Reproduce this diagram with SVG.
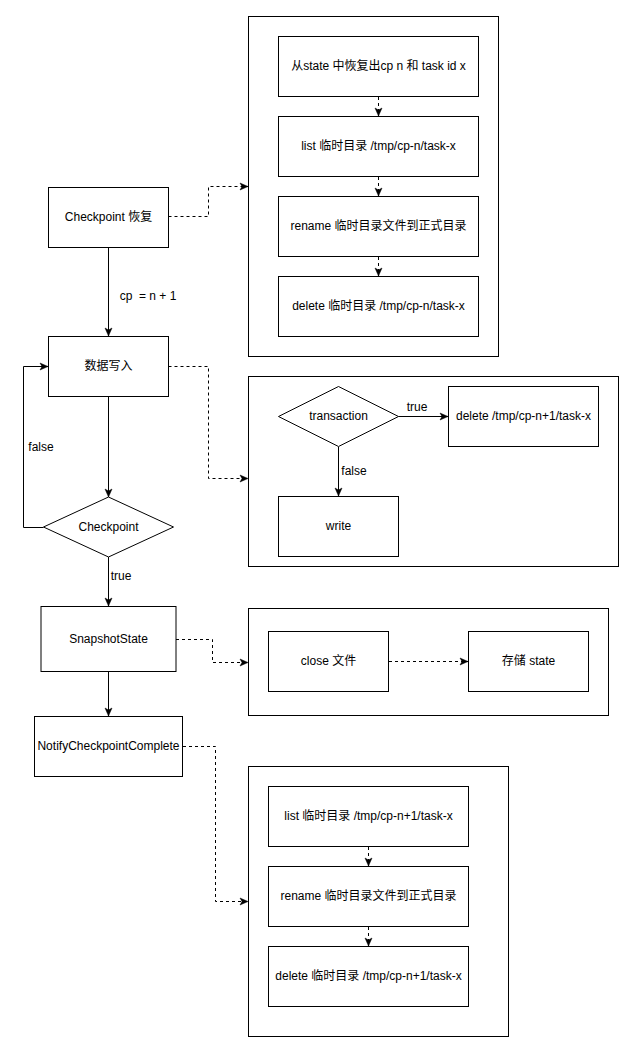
<svg xmlns="http://www.w3.org/2000/svg" width="635" height="1053" viewBox="0 0 635 1053">
<style>
  .box{fill:#fff;stroke:#000;stroke-width:1}
  .t{font-family:"Liberation Sans","Noto Sans CJK SC",sans-serif;font-size:12px;fill:#000;text-anchor:middle;dominant-baseline:central;white-space:pre}
  .e{fill:none;stroke:#000;stroke-width:1}
  .d{stroke-dasharray:3 3}
</style>
<defs>
  <marker id="arr" markerUnits="userSpaceOnUse" markerWidth="10" markerHeight="10" viewBox="0 0 10 10" refX="9" refY="5" orient="auto">
    <path d="M1,1.5 L9,5 L1,8.5 L3,5 Z" fill="#000" stroke="#000" stroke-width="0.5"/>
  </marker>
</defs>
<rect width="635" height="1053" fill="#fff"/>

<g id="outer1"><rect class="box" x="248.5" y="16.5" width="250" height="340"/></g>
<g id="outer2"><rect class="box" x="248.5" y="376.5" width="370" height="190"/></g>
<g id="outer3"><rect class="box" x="248.5" y="608.5" width="360" height="107"/></g>
<g id="outer4"><rect class="box" x="248.5" y="766.5" width="260" height="270"/></g>

<g id="n-restore"><rect class="box" x="48.5" y="187.5" width="120" height="60"/><text class="t" x="108.5" y="217">Checkpoint 恢复</text></g>
<g id="n-write-data"><rect class="box" x="48.5" y="336.5" width="120" height="60"/><text class="t" x="108.5" y="366">数据写入</text></g>
<g id="n-checkpoint"><path class="box" d="M108.5,497 L173.5,527 L108.5,557 L43.5,527 Z"/><text class="t" x="108.5" y="527">Checkpoint</text></g>
<g id="n-snapshot"><rect class="box" x="41" y="606.5" width="135" height="65"/><text class="t" x="108.5" y="639">SnapshotState</text></g>
<g id="n-notify"><rect class="box" x="34.5" y="716.5" width="148" height="60"/><text class="t" x="108.5" y="746">NotifyCheckpointComplete</text></g>

<g id="n-b1-1"><rect class="box" x="278.5" y="36.5" width="200" height="60"/><text class="t" x="378.5" y="66">从state 中恢复出cp n 和 task id x</text></g>
<g id="n-b1-2"><rect class="box" x="278.5" y="116.5" width="200" height="60"/><text class="t" x="378.5" y="146">list 临时目录 /tmp/cp-n/task-x</text></g>
<g id="n-b1-3"><rect class="box" x="278.5" y="196.5" width="200" height="60"/><text class="t" x="378.5" y="226">rename 临时目录文件到正式目录</text></g>
<g id="n-b1-4"><rect class="box" x="278.5" y="276.5" width="200" height="60"/><text class="t" x="378.5" y="306">delete 临时目录 /tmp/cp-n/task-x</text></g>

<g id="n-transaction"><path class="box" d="M338.5,386.5 L398.5,416.5 L338.5,446.5 L278.5,416.5 Z"/><text class="t" x="338.5" y="416">transaction</text></g>
<g id="n-delete-tmp"><rect class="box" x="448.5" y="386.5" width="150" height="60"/><text class="t" x="523.5" y="416">delete /tmp/cp-n+1/task-x</text></g>
<g id="n-write"><rect class="box" x="278.5" y="496.5" width="120" height="60"/><text class="t" x="338.5" y="526">write</text></g>

<g id="n-close"><rect class="box" x="268.5" y="631.5" width="120" height="60"/><text class="t" x="328.5" y="661">close 文件</text></g>
<g id="n-store"><rect class="box" x="468.5" y="631.5" width="120" height="60"/><text class="t" x="528.5" y="661">存储 state</text></g>

<g id="n-b4-1"><rect class="box" x="268.5" y="786.5" width="200" height="60"/><text class="t" x="368.5" y="816">list 临时目录 /tmp/cp-n+1/task-x</text></g>
<g id="n-b4-2"><rect class="box" x="268.5" y="866.5" width="200" height="60"/><text class="t" x="368.5" y="896">rename 临时目录文件到正式目录</text></g>
<g id="n-b4-3"><rect class="box" x="268.5" y="946.5" width="200" height="60"/><text class="t" x="368.5" y="976">delete 临时目录 /tmp/cp-n+1/task-x</text></g>

<g id="connectors">
  <path class="e d" d="M168.5,216.5 H208.5 V186.5 H248" marker-end="url(#arr)"/>
  <path class="e d" d="M378.5,97 V116" marker-end="url(#arr)"/>
  <path class="e d" d="M378.5,177 V196" marker-end="url(#arr)"/>
  <path class="e d" d="M378.5,257 V276" marker-end="url(#arr)"/>
  <path class="e" d="M108.5,248 V336" marker-end="url(#arr)"/>
  <path class="e d" d="M168.5,366.5 H208.5 V478.5 H248" marker-end="url(#arr)"/>
  <path class="e" d="M108.5,397 V497" marker-end="url(#arr)"/>
  <path class="e" d="M43.5,527.5 H23.5 V366.5 H48" marker-end="url(#arr)"/>
  <path class="e" d="M108.5,557 V606" marker-end="url(#arr)"/>
  <path class="e" d="M398.5,416.5 H448" marker-end="url(#arr)"/>
  <path class="e" d="M338.5,447 V496" marker-end="url(#arr)"/>
  <path class="e d" d="M176,639.5 H212.5 V662.5 H248" marker-end="url(#arr)" stroke="#333"/>
  <path class="e d" d="M389,661.5 H468" marker-end="url(#arr)"/>
  <path class="e" d="M108.5,672 V716" marker-end="url(#arr)"/>
  <path class="e d" d="M183,746.5 H215.5 V901.5 H248" marker-end="url(#arr)"/>
  <path class="e d" d="M368.5,847 V866" marker-end="url(#arr)"/>
  <path class="e d" d="M368.5,927 V946" marker-end="url(#arr)"/>
  <text class="t" x="148" y="296" xml:space="preserve">cp  = n + 1</text>
  <text class="t" x="41" y="447">false</text>
  <text class="t" x="121" y="576">true</text>
  <text class="t" x="417" y="407">true</text>
  <text class="t" x="354" y="471">false</text>
</g>
</svg>
